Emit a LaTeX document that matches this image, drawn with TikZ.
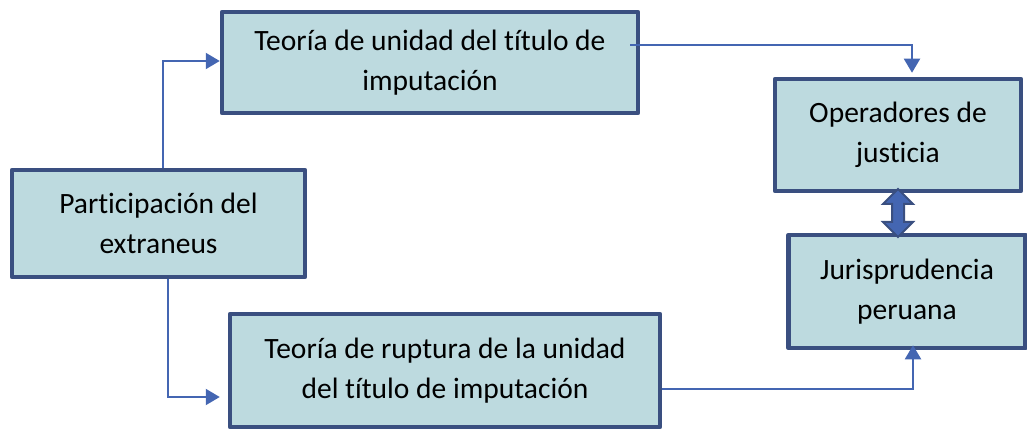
\documentclass[tikz,border=0pt]{standalone}
\usepackage{fontspec}
\setmainfont{Carlito}[Ligatures=NoCommon]
\usetikzlibrary{arrows.meta,calc,shapes.arrows}

\definecolor{boxfill}{HTML}{BDDADF}
\definecolor{boxline}{HTML}{3A4F80}
\definecolor{linkblue}{HTML}{4466B2}

\tikzset{
  box/.style={draw=boxline, fill=boxfill, line width=4.5pt, align=center,
    line join=round, inner sep=0pt, font=\fontsize{29.5}{40}\selectfont},
  link/.style={draw=linkblue, line width=2pt,
    -{Triangle[length=14pt,width=16pt]}},
  twoway/.style={double arrow, draw=boxline, fill=linkblue, line width=2pt,
    rotate=90, inner sep=0pt, inner ysep=5pt, minimum height=48pt,
    double arrow head extend=9pt},
}

\begin{document}
\begin{tikzpicture}[x=1pt, y=-1pt]
	\useasboundingbox (0, 0) rectangle (1027, 430);

	\node[box, minimum width=416pt, minimum height=101pt] (unidad) at (430, 62.5)
		{Teoría de unidad del título de\\imputación};
	\node[box, minimum width=293pt, minimum height=107pt] (extraneus) at (158.5, 223.5)
		{Participación del\\extraneus};
	\node[box, minimum width=430pt, minimum height=113pt] (ruptura) at (445, 370.5)
		{Teoría de ruptura de la unidad\\del título de imputación};
	\node[box, minimum width=246pt, minimum height=112pt] (operadores) at (898, 135)
		{Operadores de\\justicia};
	\node[box, minimum width=237pt, minimum height=113pt] (jurisprudencia) at (907, 291.5)
		{Jurisprudencia\\peruana};

	\draw [link] ([xshift=4.5pt]extraneus.north) |- ([yshift=1.5pt]unidad.west);
	\draw [link] ([xshift=9.5pt]extraneus.south) |- ([xshift=-8pt, yshift=-26.5pt]ruptura.west);
	\draw [link] ([xshift=-10pt, yshift=17.5pt]unidad.east) -| ([xshift=14pt, yshift=4pt]operadores.north);
	\draw [link] ([yshift=-18.5pt]ruptura.east) -| ([xshift=6pt, yshift=5pt]jurisprudencia.south);

	\node[twoway] (both) at ($(operadores.south)!0.5!(operadores.south |- jurisprudencia.north)$) {};
\end{tikzpicture}
\end{document}
